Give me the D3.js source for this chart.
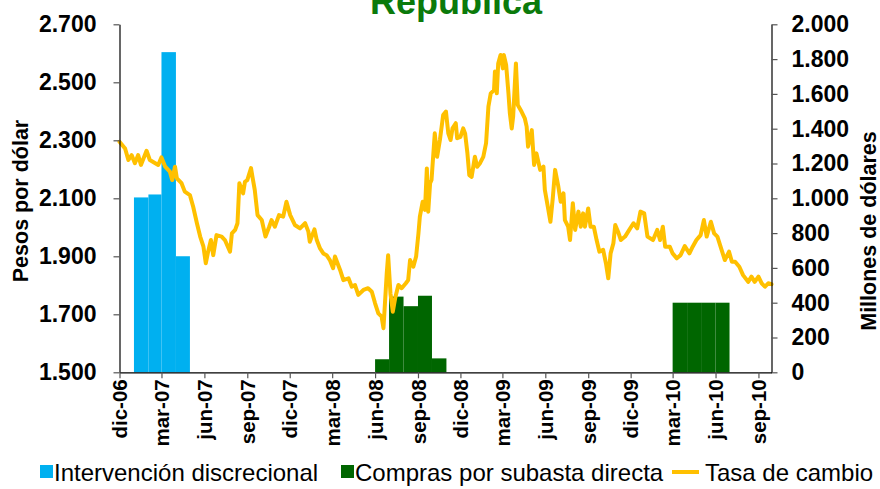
<!DOCTYPE html>
<html>
<head>
<meta charset="utf-8">
<script src="https://cdn.jsdelivr.net/npm/d3@7"></script>
<style>
  html, body { margin: 0; padding: 0; background: #fff; }
  svg { display: block; font-family: "Liberation Sans", Arial, sans-serif; }
</style>
</head>
<body>
<svg id="chart" width="880" height="489"></svg>
<script>
// Tasa de cambio (pesos por dólar), fechas y valores
const rateDates = [
  "2006-12-01","2006-12-13","2006-12-20","2006-12-27","2007-01-03","2007-01-10","2007-01-16","2007-01-28",
  "2007-02-04","2007-02-22","2007-03-01","2007-03-09","2007-03-19","2007-03-24","2007-03-30","2007-04-03",
  "2007-04-13","2007-04-20","2007-05-01","2007-05-08","2007-05-16","2007-05-23","2007-05-30","2007-06-04",
  "2007-06-09","2007-06-15","2007-06-20","2007-06-27","2007-07-08","2007-07-15","2007-07-26","2007-07-30",
  "2007-08-06","2007-08-11","2007-08-15","2007-08-23","2007-08-27","2007-09-01","2007-09-09","2007-09-12",
  "2007-09-17","2007-09-23","2007-10-02","2007-10-10","2007-10-18","2007-10-23","2007-10-30","2007-11-08",
  "2007-11-17","2007-11-24","2007-12-02","2007-12-12","2007-12-23","2008-01-03","2008-01-10","2008-01-13",
  "2008-01-23","2008-01-28","2008-02-04","2008-02-11","2008-02-18","2008-02-25","2008-03-03","2008-03-07",
  "2008-03-18","2008-03-25","2008-04-05","2008-04-12","2008-04-19","2008-04-26","2008-05-07","2008-05-17",
  "2008-05-25","2008-06-01","2008-06-08","2008-06-15","2008-06-19","2008-06-26","2008-06-29","2008-07-04",
  "2008-07-09","2008-07-14","2008-07-21","2008-07-28","2008-08-06","2008-08-11","2008-08-15","2008-08-22",
  "2008-08-28","2008-09-02","2008-09-05","2008-09-11","2008-09-16","2008-09-20","2008-09-23","2008-09-27",
  "2008-09-30","2008-10-07","2008-10-12","2008-10-18","2008-10-25","2008-10-31","2008-11-05","2008-11-10",
  "2008-11-14","2008-11-21","2008-11-24","2008-12-01","2008-12-07","2008-12-11","2008-12-16","2008-12-20",
  "2008-12-25","2009-01-01","2009-01-06","2009-01-12","2009-01-19","2009-01-25","2009-01-30","2009-02-04",
  "2009-02-11","2009-02-13","2009-02-17","2009-02-20","2009-02-25","2009-03-02","2009-03-04","2009-03-09",
  "2009-03-14","2009-03-17","2009-03-21","2009-03-24","2009-03-30","2009-04-03","2009-04-11","2009-04-18",
  "2009-04-22","2009-04-25","2009-05-03","2009-05-08","2009-05-13","2009-05-21","2009-05-28","2009-05-31",
  "2009-06-07","2009-06-12","2009-06-17","2009-06-22","2009-06-29","2009-07-04","2009-07-10","2009-07-13",
  "2009-07-20","2009-07-24","2009-07-30","2009-08-04","2009-08-11","2009-08-16","2009-08-21","2009-08-25",
  "2009-09-01","2009-09-06","2009-09-13","2009-09-19","2009-09-25","2009-10-03","2009-10-09","2009-10-14",
  "2009-10-19","2009-10-25","2009-10-29","2009-11-04","2009-11-10","2009-11-19","2009-11-28","2009-12-07",
  "2009-12-15","2009-12-22","2009-12-30","2010-01-06","2010-01-18","2010-01-27","2010-02-02","2010-02-08",
  "2010-02-13","2010-02-23","2010-03-01","2010-03-10","2010-03-18","2010-03-27","2010-04-06","2010-04-13",
  "2010-04-21","2010-04-30","2010-05-07","2010-05-13","2010-05-22","2010-05-29","2010-06-05","2010-06-14",
  "2010-06-21","2010-06-30","2010-07-06","2010-07-13","2010-07-22","2010-07-30","2010-08-10","2010-08-17",
  "2010-08-24","2010-09-01","2010-09-08","2010-09-15","2010-09-22","2010-09-29"
];
const rateValues = [
  2295,2272,2232,2249,2221,2249,2215,2264,
  2232,2215,2241,2209,2192,2163,2209,2169,
  2152,2123,2111,2071,2014,1968,1933,1876,
  1916,1956,1904,1973,1968,1956,1916,1979,
  1991,2014,2152,2117,2157,2163,2204,2175,
  2129,2042,2025,1968,2002,2025,2002,2042,
  2037,2088,2042,2008,1996,2014,1985,1950,
  1993,1956,1927,1910,1904,1887,1859,1899,
  1853,1818,1824,1795,1801,1767,1784,1790,
  1778,1738,1703,1692,1652,1841,1904,1772,
  1709,1755,1801,1790,1807,1818,1887,1864,
  1899,1979,2037,2088,2060,2203,2054,2152,
  2163,2324,2243,2301,2387,2399,2324,2301,
  2341,2359,2307,2312,2341,2324,2255,2180,
  2174,2243,2209,2221,2243,2290,2416,2462,
  2473,2537,2462,2565,2594,2548,2594,2560,
  2462,2393,2341,2381,2565,2422,2399,2376,
  2347,2278,2335,2215,2255,2198,2209,2129,
  2065,2019,2100,2198,2140,2088,2117,2025,
  2002,1956,2083,1991,2054,2002,2048,2002,
  2065,2002,2002,1956,1916,1922,1876,1824,
  1910,1945,2008,1985,1956,1968,1991,2014,
  1996,2054,2048,1968,1956,1991,1956,2002,
  1933,1933,1910,1893,1904,1935,1910,1933,
  1956,1973,2025,1968,2019,1979,1968,1922,
  1887,1916,1881,1881,1864,1835,1812,1830,
  1812,1830,1807,1795,1807,1804
];

// Intervención discrecional (millones de dólares por mes)
const discStart = ["2007-01-01","2007-02-01","2007-03-01","2007-04-01"];
const discEnd   = ["2007-02-01","2007-03-01","2007-04-01","2007-05-01"];
const discValues = [1005, 1022, 1840, 667];

// Compras por subasta directa (millones de dólares por mes)
const auctStart = ["2008-06-01","2008-07-01","2008-08-01","2008-09-01","2008-10-01",
                   "2010-03-01","2010-04-01","2010-05-01","2010-06-01"];
const auctEnd   = ["2008-07-01","2008-08-01","2008-09-01","2008-10-01","2008-11-01",
                   "2010-04-01","2010-05-01","2010-06-01","2010-07-01"];
const auctValues = [75, 435, 380, 440, 80, 400, 400, 400, 400];

// Etiquetas del eje de tiempo (trimestrales)
const tickDates = ["2006-12-01","2007-03-01","2007-06-01","2007-09-01","2007-12-01",
                   "2008-03-01","2008-06-01","2008-09-01","2008-12-01","2009-03-01",
                   "2009-06-01","2009-09-01","2009-12-01","2010-03-01","2010-06-01","2010-09-01"];
const monthNames = ["ene","feb","mar","abr","may","jun","jul","ago","sep","oct","nov","dic"];

const leftTicks = [1500, 1700, 1900, 2100, 2300, 2500, 2700];
const rightTicks = [0, 200, 400, 600, 800, 1000, 1200, 1400, 1600, 1800, 2000];

const parse = d3.utcParse("%Y-%m-%d");
const svg = d3.select("#chart");

const plot = { left: 119.5, right: 771.5, top: 24.3, bottom: 372.3 };

const x = d3.scaleUtc()
  .domain([parse("2006-12-01"), parse("2010-09-29")])
  .range([plot.left, plot.right]);
const yL = d3.scaleLinear().domain([1500, 2700]).range([plot.bottom, plot.top]);
const yR = d3.scaleLinear().domain([0, 2000]).range([plot.bottom, plot.top]);

const fmtThousands = d => d3.format(",")(d).replace(/,/g, ".");

// Barras: intervención discrecional
svg.append("g").selectAll("rect")
  .data(discValues.map((v, i) => ({ s: parse(discStart[i]), e: parse(discEnd[i]), v })))
  .join("rect")
  .attr("x", d => x(d.s))
  .attr("width", d => x(d.e) - x(d.s))
  .attr("y", d => yR(d.v))
  .attr("height", d => yR(0) - yR(d.v))
  .attr("fill", "#00B0F0");

// Barras: compras por subasta
svg.append("g").selectAll("rect")
  .data(auctValues.map((v, i) => ({ s: parse(auctStart[i]), e: parse(auctEnd[i]), v })))
  .join("rect")
  .attr("x", d => x(d.s))
  .attr("width", d => x(d.e) - x(d.s))
  .attr("y", d => yR(d.v))
  .attr("height", d => yR(0) - yR(d.v))
  .attr("fill", "#006600");

// Línea de la tasa de cambio
const line = d3.line()
  .x(d => x(d.date))
  .y(d => yL(d.v));
svg.append("path")
  .datum(rateValues.map((v, i) => ({ date: parse(rateDates[i]), v })))
  .attr("d", line)
  .attr("fill", "none")
  .attr("stroke", "#FFC000")
  .attr("stroke-width", 4)
  .attr("stroke-linejoin", "round")
  .attr("stroke-linecap", "round");

// Ejes
function styleAxis(g) {
  g.select(".domain").attr("stroke", "#000").attr("stroke-width", 1.2);
  g.selectAll(".tick line").attr("stroke", "#555").attr("stroke-width", 1.2);
  g.selectAll(".tick text").attr("fill", "#000").attr("font-weight", "bold")
    .attr("font-family", "'Liberation Sans', Arial, sans-serif");
}

svg.append("g")
  .attr("transform", `translate(${plot.left},0)`)
  .call(d3.axisLeft(yL).tickValues(leftTicks).tickFormat(fmtThousands).tickSize(6).tickSizeOuter(0).tickPadding(17))
  .call(styleAxis)
  .call(g => g.selectAll(".tick text").attr("font-size", 23));

svg.append("g")
  .attr("transform", `translate(${plot.right},0)`)
  .call(d3.axisRight(yR).tickValues(rightTicks).tickFormat(fmtThousands).tickSize(6).tickSizeOuter(0).tickPadding(14))
  .call(styleAxis)
  .call(g => g.selectAll(".tick text").attr("font-size", 23));

svg.append("g")
  .attr("transform", `translate(0,${plot.bottom})`)
  .call(d3.axisBottom(x).tickValues(tickDates.map(parse))
    .tickFormat(d => `${monthNames[d.getUTCMonth()]}-${String(d.getUTCFullYear() % 100).padStart(2, "0")}`)
    .tickSize(6).tickSizeOuter(0))
  .call(styleAxis)
  .call(g => g.selectAll(".tick text")
    .attr("font-size", 20.5)
    .attr("text-anchor", "end")
    .attr("transform", "rotate(-90)")
    .attr("x", -7)
    .attr("y", 0)
    .attr("dy", "0.35em"));

// Títulos
svg.append("text")
  .attr("x", 456).attr("y", 14)
  .attr("text-anchor", "middle")
  .attr("font-size", 36).attr("font-weight", "bold")
  .attr("fill", "#0B7A0B")
  .text("República");

svg.append("text")
  .attr("transform", "translate(28,201) rotate(-90)")
  .attr("text-anchor", "middle")
  .attr("font-size", 21.5).attr("font-weight", "bold")
  .text("Pesos por dólar");

svg.append("text")
  .attr("transform", "translate(875.5,231) rotate(-90)")
  .attr("text-anchor", "middle")
  .attr("font-size", 21.5).attr("font-weight", "bold")
  .text("Millones de dólares");

// Leyenda
const legendItems = [
  { label: "Intervención discrecional", type: "rect", color: "#00B0F0", x: 40 },
  { label: "Compras por subasta directa", type: "rect", color: "#006600", x: 341 },
  { label: "Tasa de cambio", type: "line", color: "#FFC000", x: 672 }
];
const legend = svg.append("g");
legendItems.forEach(it => {
  const g = legend.append("g").attr("transform", `translate(${it.x},0)`);
  if (it.type === "rect") {
    g.append("rect").attr("x", 0).attr("y", 465).attr("width", 13).attr("height", 13).attr("fill", it.color);
    g.append("text").attr("x", 14).attr("y", 481).attr("font-size", 24).text(it.label);
  } else {
    g.append("line").attr("x1", 0).attr("x2", 27).attr("y1", 472).attr("y2", 472)
      .attr("stroke", it.color).attr("stroke-width", 4);
    g.append("text").attr("x", 33).attr("y", 481).attr("font-size", 24).text(it.label);
  }
});
</script>
</body>
</html>
